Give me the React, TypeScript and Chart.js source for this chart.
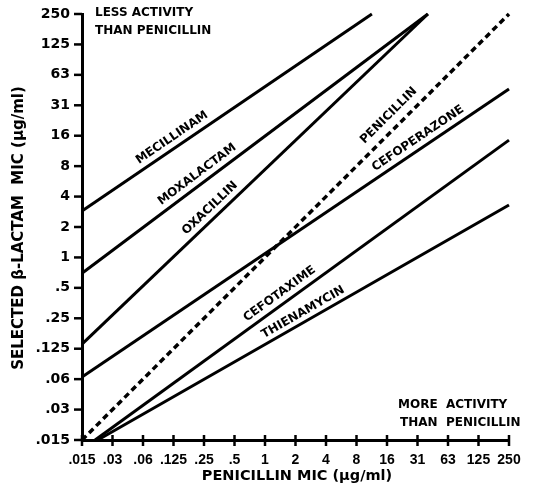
import React, { useEffect, useRef } from 'react';
import { Chart, registerables } from 'chart.js';
Chart.register(...registerables);

const tickLabels = ['.015', '.03', '.06', '.125', '.25', '.5', '1', '2', '4', '8', '16', '31', '63', '125', '250'];
const tickValues = [0.015, 0.03, 0.06, 0.12, 0.24, 0.48, 0.96, 1.92, 3.84, 7.68, 15.36, 30.72, 61.44, 122.88, 245.76];
const AXIS_MIN = 0.015;
const AXIS_MAX = 245.76;

const seriesNames = ['MECILLINAM', 'MOXALACTAM', 'OXACILLIN', 'PENICILLIN', 'CEFOPERAZONE', 'CEFOTAXIME', 'THIENAMYCIN'];
const mecillinamX = [0.015, 10.9];
const mecillinamY = [2.77, 245.76];
const moxalactamX = [0.015, 38.9];
const moxalactamY = [0.67, 245.76];
const oxacillinX = [0.015, 38.9];
const oxacillinY = [0.133, 245.76];
const penicillinX = [0.015, 245.76];
const penicillinY = [0.015, 245.76];
const cefoperazoneX = [0.015, 245.76];
const cefoperazoneY = [0.063, 44.4];
const cefotaximeX = [0.0202, 245.76];
const cefotaximeY = [0.015, 13.9];
const thienamycinX = [0.0215, 245.76];
const thienamycinY = [0.015, 3.17];

const seriesX = [mecillinamX, moxalactamX, oxacillinX, penicillinX, cefoperazoneX, cefotaximeX, thienamycinX];
const seriesY = [mecillinamY, moxalactamY, oxacillinY, penicillinY, cefoperazoneY, cefotaximeY, thienamycinY];
const dashed = [false, false, false, true, false, false, false];
// label position along each line (fraction) and perpendicular offset in px
const labelT = [0.33, 0.35, 0.39, 0.74, 0.8, 0.46, 0.51];
const labelOff = [10, 10, 10, 13, 10, 10, 9];

const FONT = '"Liberation Sans", Arial, sans-serif';
const HEAVY = '"DejaVu Sans", "Liberation Sans", sans-serif';

const decorPlugin = {
  id: 'decor',
  afterDatasetsDraw(chart: any) {
    const ctx = chart.ctx;
    const ca = chart.chartArea;
    const xs = chart.scales.x;
    const ys = chart.scales.y;
    ctx.save();
    ctx.strokeStyle = '#000';
    ctx.lineWidth = 2.5;
    // tick marks
    tickValues.forEach((v) => {
      const py = ys.getPixelForValue(v);
      ctx.beginPath();
      ctx.moveTo(ca.left - 8, py);
      ctx.lineTo(ca.left, py);
      ctx.stroke();
      const px = xs.getPixelForValue(v);
      ctx.beginPath();
      ctx.moveTo(px, ca.bottom - 5);
      ctx.lineTo(px, ca.bottom + 6);
      ctx.stroke();
    });
    // line labels
    ctx.fillStyle = '#000';
    ctx.font = `bold 12px ${HEAVY}`;
    ctx.textAlign = 'center';
    ctx.textBaseline = 'middle';
    chart.data.datasets.forEach((ds: any, i: number) => {
      const meta = chart.getDatasetMeta(i);
      const p0 = meta.data[0];
      const p1 = meta.data[meta.data.length - 1];
      const dx = p1.x - p0.x;
      const dy = p1.y - p0.y;
      const ang = Math.atan2(dy, dx);
      const t = labelT[i];
      const cx = p0.x + dx * t;
      const cy = p0.y + dy * t;
      const len = Math.hypot(dx, dy);
      const nx = dy / len;
      const ny = -dx / len;
      ctx.save();
      ctx.translate(cx + nx * labelOff[i], cy + ny * labelOff[i]);
      ctx.rotate(ang);
      ctx.fillText(seriesNames[i], 0, 0);
      ctx.restore();
    });
    // corner notes
    ctx.textAlign = 'left';
    ctx.font = `bold 12px ${HEAVY}`;
    ctx.fillText('LESS ACTIVITY', 95, 13);
    ctx.fillText('THAN PENICILLIN', 95, 31);
    ctx.fillText('MORE  ACTIVITY', 398, 405);
    ctx.fillText('THAN  PENICILLIN', 400, 423);
    // axis titles
    ctx.textAlign = 'center';
    ctx.font = `bold 14.5px ${HEAVY}`;
    ctx.fillText('PENICILLIN MIC (\u00b5g/ml)', 297, 476);
    ctx.save();
    ctx.translate(19, 228);
    ctx.rotate(-Math.PI / 2);
    ctx.font = `bold 15px ${HEAVY}`;
    ctx.fillText('SELECTED \u03b2-LACTAM  MIC (\u00b5g/ml)', 0, 0);
    ctx.restore();
    ctx.restore();
  },
};

export default function App() {
  const ref = useRef<HTMLCanvasElement | null>(null);
  useEffect(() => {
    if (!ref.current) return;
    const axisCommon = (isY: boolean) => ({
      type: 'logarithmic' as const,
      min: AXIS_MIN,
      max: AXIS_MAX,
      grid: { display: false, drawTicks: false },
      border: { display: true, color: '#000', width: 3 },
      afterBuildTicks: (scale: any) => {
        scale.ticks = tickValues.map((v) => ({ value: v }));
      },
      afterFit: (scale: any) => {
        if (isY) {
          scale.width = 82;
          scale.paddingTop = 0;
          scale.paddingBottom = 0;
        } else {
          scale.height = 48;
          scale.paddingLeft = 0;
          scale.paddingRight = 0;
        }
      },
      ticks: {
        autoSkip: false,
        maxRotation: 0,
        minRotation: 0,
        color: '#000',
        padding: 12,
        font: isY
          ? { family: HEAVY, weight: 'bold' as const, size: 14 }
          : { family: FONT, weight: 'bold' as const, size: 14 },
        callback: (_v: any, idx: number) => tickLabels[idx],
      },
    });
    const chart = new Chart(ref.current, {
      type: 'line',
      data: {
        datasets: seriesNames.map((name, i) => ({
          label: name,
          data: seriesX[i].map((x, j) => ({ x, y: seriesY[i][j] })),
          borderColor: '#000',
          borderWidth: dashed[i] ? 3.5 : 3,
          borderDash: dashed[i] ? [6, 4] : [],
          pointRadius: 0,
          fill: false,
          tension: 0,
          clip: false as any,
        })),
      },
      options: {
        animation: false,
        responsive: false,
        maintainAspectRatio: false,
        layout: { padding: { top: 14, right: 24, left: 0, bottom: 0 } },
        plugins: { legend: { display: false }, tooltip: { enabled: false }, title: { display: false } },
        scales: { x: axisCommon(false) as any, y: axisCommon(true) as any },
      },
      plugins: [decorPlugin],
    });
    return () => chart.destroy();
  }, []);
  return (
    <div style={{ position: 'fixed', left: 0, top: 0, width: 533, height: 488, background: '#fff' }}>
      <canvas ref={ref} width={533} height={488} style={{ width: 533, height: 488 }} />
    </div>
  );
}
